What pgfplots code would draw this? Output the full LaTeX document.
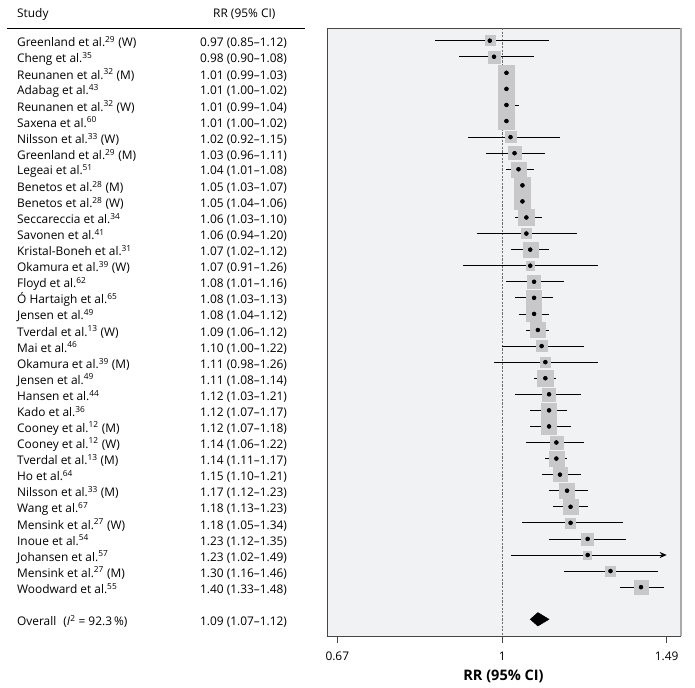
\documentclass[border=0pt]{standalone}
\usepackage{pgfplots}
\pgfplotsset{compat=1.18}
\usepackage{pgfplotstable}
\usepackage{fontspec}
\setmainfont{Open Sans}
\usetikzlibrary{arrows.meta}
\definecolor{bgcol}{RGB}{241,242,244}
\definecolor{boxcol}{RGB}{200,200,202}
\definecolor{framecol}{RGB}{70,70,70}
\definecolor{edgecol}{RGB}{170,170,172}
\definecolor{refcol}{RGB}{110,110,110}

\pgfplotstableread{
y rr lo hi w
1 0.97 0.85 1.12 10
2 0.98 0.90 1.08 12
3 1.01 0.99 1.03 16
4 1.01 1.00 1.02 16
5 1.01 0.99 1.04 16
6 1.01 1.00 1.02 16
7 1.02 0.92 1.15 11
8 1.03 0.96 1.11 13
9 1.04 1.01 1.08 15
10 1.05 1.03 1.07 16
11 1.05 1.04 1.06 16
12 1.06 1.03 1.10 16
13 1.06 0.94 1.20 10
14 1.07 1.02 1.12 15
15 1.07 0.91 1.26 8
16 1.08 1.01 1.16 13
17 1.08 1.03 1.13 15
18 1.08 1.04 1.12 15
19 1.09 1.06 1.12 15
20 1.10 1.00 1.22 11
21 1.11 0.98 1.26 10
22 1.11 1.08 1.14 16
23 1.12 1.03 1.21 13
24 1.12 1.07 1.17 15
25 1.12 1.07 1.18 15
26 1.14 1.06 1.22 13
27 1.14 1.11 1.17 15
28 1.15 1.10 1.21 14
29 1.17 1.12 1.23 15
30 1.18 1.13 1.23 15
31 1.18 1.05 1.34 10
32 1.23 1.12 1.35 12
33 1.23 1.02 1.23 8
34 1.30 1.16 1.46 10
35 1.40 1.33 1.48 14
}\studies

\newcommand{\lab}[2]{\makebox[183pt][l]{#1}#2}
\newcommand{\sups}[1]{\textsuperscript{#1}}
\newcommand{\ci}[3]{#1 (#2\textendash#3)}
\newcommand{\txtfont}{\fontsize{11.9pt}{14pt}\selectfont}

\begin{document}
\txtfont
\begin{tikzpicture}
\useasboundingbox (0,0) rectangle (695pt,687pt);
\node[anchor=base west, inner sep=0pt] at (17pt,669pt) {Study};
\node[anchor=base west, inner sep=0pt] at (213pt,669pt) {RR (95\% CI)};
\draw[black, line width=0.8pt] (6.7pt,658.7pt) -- (305pt,658.7pt);
\begin{axis}[
  at={(327pt,51pt)}, anchor=south west,
  scale only axis, width=353pt, height=608pt,
  xmode=log, xmin=0.6535, xmax=1.539,
  ymin=0.21, ymax=38.04, y dir=reverse,
  axis background/.style={fill=bgcol},
  axis line style={framecol, line width=0.9pt},
  xtick={0.67,1,1.49}, xticklabels={0.67,1,1.49},
  xtick pos=left, xtick align=outside, major tick length=6.5pt,
  xtick style={framecol, line width=0.9pt},
  xticklabel style={font=\txtfont, yshift=-5pt},
  /pgf/number format/assume math mode=true,
  ytick={1,...,35,37},
  ytick style={draw=none},
  yticklabel style={anchor=west, xshift=-314pt, yshift=-2pt, font=\txtfont},
  yticklabels={
    {\lab{Greenland et al.\sups{29} (W)}{\ci{0.97}{0.85}{1.12}}},
    {\lab{Cheng et al.\sups{35}}{\ci{0.98}{0.90}{1.08}}},
    {\lab{Reunanen et al.\sups{32} (M)}{\ci{1.01}{0.99}{1.03}}},
    {\lab{Adabag et al.\sups{43}}{\ci{1.01}{1.00}{1.02}}},
    {\lab{Reunanen et al.\sups{32} (W)}{\ci{1.01}{0.99}{1.04}}},
    {\lab{Saxena et al.\sups{60}}{\ci{1.01}{1.00}{1.02}}},
    {\lab{Nilsson et al.\sups{33} (W)}{\ci{1.02}{0.92}{1.15}}},
    {\lab{Greenland et al.\sups{29} (M)}{\ci{1.03}{0.96}{1.11}}},
    {\lab{Legeai et al.\sups{51}}{\ci{1.04}{1.01}{1.08}}},
    {\lab{Benetos et al.\sups{28} (M)}{\ci{1.05}{1.03}{1.07}}},
    {\lab{Benetos et al.\sups{28} (W)}{\ci{1.05}{1.04}{1.06}}},
    {\lab{Seccareccia et al.\sups{34}}{\ci{1.06}{1.03}{1.10}}},
    {\lab{Savonen et al.\sups{41}}{\ci{1.06}{0.94}{1.20}}},
    {\lab{Kristal-Boneh et al.\sups{31}}{\ci{1.07}{1.02}{1.12}}},
    {\lab{Okamura et al.\sups{39} (W)}{\ci{1.07}{0.91}{1.26}}},
    {\lab{Floyd et al.\sups{62}}{\ci{1.08}{1.01}{1.16}}},
    {\lab{Ó Hartaigh et al.\sups{65}}{\ci{1.08}{1.03}{1.13}}},
    {\lab{Jensen et al.\sups{49}}{\ci{1.08}{1.04}{1.12}}},
    {\lab{Tverdal et al.\sups{13} (W)}{\ci{1.09}{1.06}{1.12}}},
    {\lab{Mai et al.\sups{46}}{\ci{1.10}{1.00}{1.22}}},
    {\lab{Okamura et al.\sups{39} (M)}{\ci{1.11}{0.98}{1.26}}},
    {\lab{Jensen et al.\sups{49}}{\ci{1.11}{1.08}{1.14}}},
    {\lab{Hansen et al.\sups{44}}{\ci{1.12}{1.03}{1.21}}},
    {\lab{Kado et al.\sups{36}}{\ci{1.12}{1.07}{1.17}}},
    {\lab{Cooney et al.\sups{12} (M)}{\ci{1.12}{1.07}{1.18}}},
    {\lab{Cooney et al.\sups{12} (W)}{\ci{1.14}{1.06}{1.22}}},
    {\lab{Tverdal et al.\sups{13} (M)}{\ci{1.14}{1.11}{1.17}}},
    {\lab{Ho et al.\sups{64}}{\ci{1.15}{1.10}{1.21}}},
    {\lab{Nilsson et al.\sups{33} (M)}{\ci{1.17}{1.12}{1.23}}},
    {\lab{Wang et al.\sups{67}}{\ci{1.18}{1.13}{1.23}}},
    {\lab{Mensink et al.\sups{27} (W)}{\ci{1.18}{1.05}{1.34}}},
    {\lab{Inoue et al.\sups{54}}{\ci{1.23}{1.12}{1.35}}},
    {\lab{Johansen et al.\sups{57}}{\ci{1.23}{1.02}{1.49}}},
    {\lab{Mensink et al.\sups{27} (M)}{\ci{1.30}{1.16}{1.46}}},
    {\lab{Woodward et al.\sups{55}}{\ci{1.40}{1.33}{1.48}}},
    {\lab{Overall\hspace{0.6em}(\textit{I}\sups{2} = 92.3\,\%)}{\ci{1.09}{1.07}{1.12}}}
  },
  xlabel={\textbf{RR (95\% CI)}},
  xlabel style={font=\fontsize{14.5pt}{16pt}\selectfont, yshift=-1pt},
  clip=false,
]
% weight boxes
\addplot[scatter, only marks, mark=square*,
  scatter/use mapped color={draw=boxcol, fill=boxcol},
  visualization depends on={\thisrow{w}/2 \as \hw},
  scatter/@pre marker code/.append style={/tikz/mark size=\hw}]
  table[x=rr, y=y] {\studies};
% reference line
\addplot[refcol, line width=1pt, dash pattern=on 2.2pt off 1.4pt] coordinates {(1,0.21) (1,38.04)};
% confidence intervals
\addplot[only marks, mark=none,
  error bars/.cd, x dir=both, x explicit, error mark=none,
  error bar style={black, line width=0.8pt}]
  table[x=rr, y=y,
    x error plus expr=\thisrow{hi}-\thisrow{rr},
    x error minus expr=\thisrow{rr}-\thisrow{lo}] {\studies};
% Johansen arrow to upper limit 1.49
\addplot[black, line width=0.8pt, -{Stealth[length=7pt, width=6pt]}] coordinates {(1.02,33) (1.49,33)};
% point estimates
\addplot[only marks, mark=*, mark size=1.8pt, black] table[x=rr, y=y] {\studies};
% overall diamond
\addplot[fill=black, draw=black] coordinates {(1.07,37) (1.09,36.58) (1.12,37) (1.09,37.42) (1.07,37)} -- cycle;
% shaded right edge of the panel
\draw[edgecol, line width=2.2pt] ([xshift=0.6pt]rel axis cs:1,0) -- ([xshift=0.6pt]rel axis cs:1,1);
\end{axis}
\end{tikzpicture}
\end{document}
